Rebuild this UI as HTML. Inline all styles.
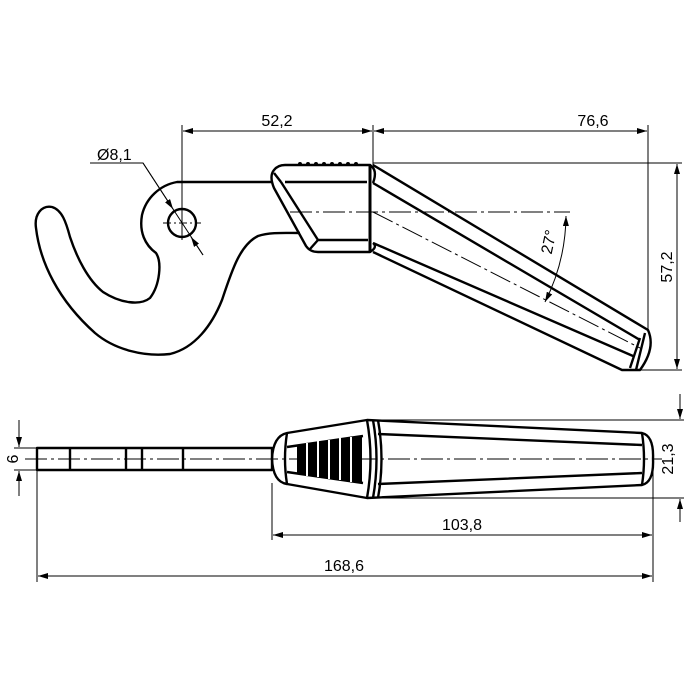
<!DOCTYPE html>
<html><head><style>html,body{margin:0;padding:0;background:#fff}svg{display:block}</style></head>
<body>
<svg width="700" height="700" viewBox="0 0 700 700" xmlns="http://www.w3.org/2000/svg" font-family="Liberation Sans, sans-serif">
<defs>
<marker id="a" viewBox="0 0 10 6" refX="10" refY="3" markerWidth="10" markerHeight="6" orient="auto-start-reverse" markerUnits="userSpaceOnUse"><path d="M0,0 L10,3 L0,6 z" fill="#000"/></marker>
</defs>
<g fill="none" stroke="#000" stroke-width="1">
<line x1="182" y1="125" x2="182" y2="240"/>
<line x1="373" y1="125" x2="373" y2="165"/>
<line x1="648" y1="125" x2="648" y2="330"/>
<line x1="183" y1="131" x2="372" y2="131" marker-start="url(#a)" marker-end="url(#a)"/>
<line x1="374" y1="131" x2="647" y2="131" marker-start="url(#a)" marker-end="url(#a)"/>
<line x1="373" y1="163" x2="682" y2="163"/>
<line x1="640" y1="370" x2="682" y2="370"/>
<line x1="677" y1="164" x2="677" y2="369" marker-start="url(#a)" marker-end="url(#a)"/>
<polyline points="90,163 143,163 203,255"/>
<line x1="143" y1="163" x2="173" y2="209" marker-end="url(#a)"/>
<line x1="203" y1="255" x2="191" y2="237" marker-end="url(#a)"/>
<line x1="163" y1="223" x2="201" y2="223" stroke-dasharray="8,3,2,3"/>
<line x1="290" y1="212" x2="570" y2="212" stroke-dasharray="22,4,3,4"/>
<line x1="373" y1="212" x2="640" y2="348" stroke-dasharray="22,4,3,4"/>
<path d="M566,216 A195,195 0 0 1 545,302" marker-start="url(#a)" marker-end="url(#a)"/>
<line x1="14" y1="448" x2="37" y2="448"/><line x1="14" y1="470" x2="37" y2="470"/>
<line x1="19" y1="420" x2="19" y2="447" marker-end="url(#a)"/>
<line x1="19" y1="496" x2="19" y2="471" marker-end="url(#a)"/>
<line x1="370" y1="420" x2="684" y2="420"/><line x1="370" y1="498" x2="684" y2="498"/>
<line x1="680" y1="394" x2="680" y2="419" marker-end="url(#a)"/>
<line x1="680" y1="522" x2="680" y2="499" marker-end="url(#a)"/>
<line x1="272" y1="483" x2="272" y2="540"/>
<line x1="653" y1="470" x2="653" y2="582"/>
<line x1="37" y1="470" x2="37" y2="582"/>
<line x1="273" y1="535" x2="652" y2="535" marker-start="url(#a)" marker-end="url(#a)"/>
<line x1="38" y1="576" x2="652" y2="576" marker-start="url(#a)" marker-end="url(#a)"/>
<line x1="25" y1="459" x2="662" y2="459" stroke-dasharray="22,4,3,4"/>
</g>
<g fill="none" stroke="#000" stroke-width="2.4" stroke-linejoin="round">
<path d="M272,182 L177,182 C160,185 146,198 142,215 C139,232 145,245 156,253 C162,262 160,285 150,298 C140,306 120,303 103,292 C88,280 77,258 70,237 C66,222 62,210 52,207 C42,205 34,214 36,228 C40,262 58,300 95,333 C115,350 145,357 170,354 C195,348 212,325 222,300 C232,270 240,245 258,236 C270,232 285,233 300,233"/>
<circle cx="182" cy="223" r="14"/>
<path d="M285,165 L370,165 L370,252 L318,252 Q310,252 306,246 L274,188 Q269,176 274,170 Q278,165 285,165 Z"/>
<path d="M285,182 L367,182 M281,182 L318,240 L368,240 M281,182 L274,173 M318,240 L310,249"/>
<line x1="370" y1="165" x2="370" y2="252" stroke-width="3"/>
<path d="M373,165 L648,330 Q656,348 640,370 L622,370 L373,252"/>
<path d="M373,183 L640,340 M373,243 L633,356 M640,338 L630,368 M645,333 L636,370"/>
<path d="M370,165 Q378,170 373,183 M370,252 Q378,247 373,243"/>
<rect x="37" y="448" width="235" height="22"/>
<line x1="70" y1="448" x2="70" y2="470"/><line x1="126" y1="448" x2="126" y2="470"/>
<line x1="142" y1="448" x2="142" y2="470"/><line x1="183" y1="448" x2="183" y2="470"/>
<path d="M287,433 L367,420 L642,433 Q654,436 653,459 Q654,482 642,485 L367,498 L287,484 Q273,482 272,459 Q273,436 287,433 Z"/>
<path d="M287,433 Q283,459 287,484 M642,433 Q646,459 642,485"/>
<path d="M367,420 Q374,459 367,498 M373,420 Q380,459 373,498 M378,420 Q385,459 378,498"/>
<path d="M378,434 L642,445 M378,484 L642,473"/>
<path d="M287,447 L363,436 M287,472 L363,483"/>
</g>
<g fill="#000">
<circle cx="300" cy="164" r="2"/><circle cx="308" cy="164" r="2"/><circle cx="316" cy="164" r="2"/><circle cx="324" cy="164" r="2"/><circle cx="332" cy="164" r="2"/><circle cx="340" cy="164" r="2"/><circle cx="348" cy="164" r="2"/><circle cx="356" cy="164" r="2"/>
<polygon points="297,446 362,437 362,482 297,473"/>
</g>
<g stroke="#fff" stroke-width="2">
<line x1="307" y1="443" x2="307" y2="476"/><line x1="318" y1="441" x2="318" y2="477"/><line x1="329" y1="440" x2="329" y2="479"/><line x1="340" y1="438" x2="340" y2="480"/><line x1="351" y1="437" x2="351" y2="482"/>
</g>
<g font-size="16" fill="#000">
<text x="277" y="126" text-anchor="middle">52,2</text>
<text x="593" y="126" text-anchor="middle">76,6</text>
<text x="97" y="160">Ø8,1</text>
<text transform="translate(672,267) rotate(-90)" text-anchor="middle">57,2</text>
<text transform="translate(554,243) rotate(-78)" text-anchor="middle">27°</text>
<text transform="translate(18,459) rotate(-90)" text-anchor="middle">6</text>
<text transform="translate(673,459) rotate(-90)" text-anchor="middle">21,3</text>
<text x="462" y="530" text-anchor="middle">103,8</text>
<text x="344" y="571" text-anchor="middle">168,6</text>
</g>
</svg>
</body></html>
